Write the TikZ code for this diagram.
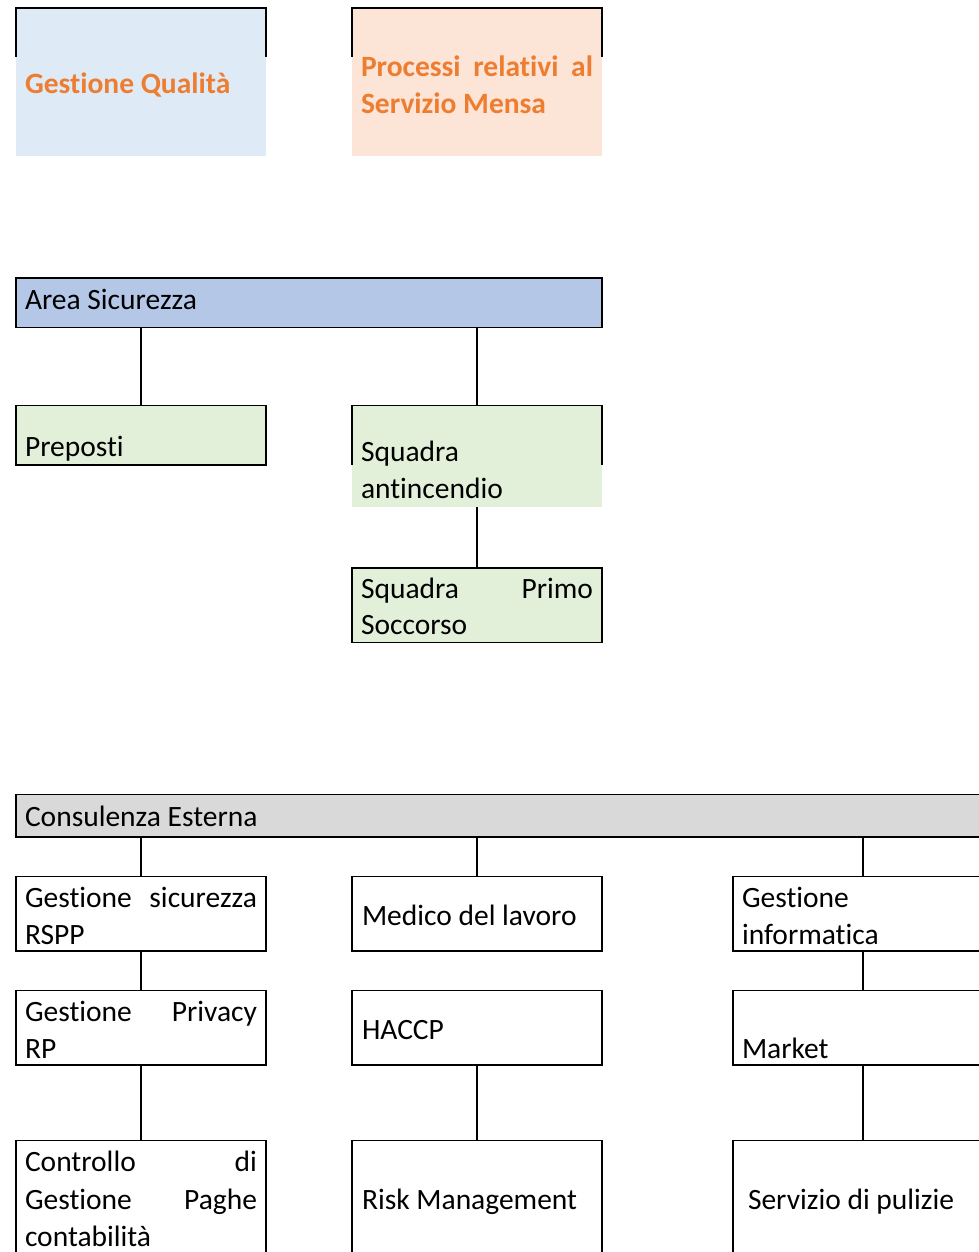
\documentclass[tikz,border=0pt]{standalone}
\usepackage{fontspec}
\setmainfont{Carlito}[Ligatures=NoCommon]
\definecolor{qblue}{HTML}{DEEBF7}
\definecolor{peach}{HTML}{FCE4D6}
\definecolor{areablue}{HTML}{B4C7E7}
\definecolor{lgreen}{HTML}{E2F0D9}
\definecolor{lgray}{HTML}{D9D9D9}
\definecolor{orangetxt}{HTML}{ED7D31}
\tikzset{
  boxbase/.style={rectangle, inner sep=0pt, outer sep=0pt, anchor=north west},
  framed/.style={boxbase, draw=black, line width=1.8pt},
  border/.style={draw=black, line width=1.8pt},
  conn/.style={draw=black, line width=1.4pt},
  txt/.style={inner sep=0pt, outer sep=0pt, anchor=base west, yshift=-1.5pt, font=\fontsize{29.5}{37}\selectfont},
  otxt/.style={txt, text=orangetxt, font=\fontsize{29.5}{37}\selectfont\bfseries}
}
\begin{document}
\begin{tikzpicture}[x=1pt,y=-1pt]
\useasboundingbox (0,0) rectangle (979,1252);
\clip (0,0) rectangle (979,1252);

% Top boxes (partial frames)
\node[boxbase, fill=qblue, minimum width=250pt, minimum height=148.5pt] (gq) at (16,8) {};
\draw[border] ([yshift=-49pt]gq.north west) -- (gq.north west) -- (gq.north east) -- ([yshift=-49pt]gq.north east);
\node[otxt] (tgq) at (25,92) {Gestione Qualità};

\node[boxbase, fill=peach, minimum width=250pt, minimum height=148.5pt] (psm) at (352,8) {};
\draw[border] ([yshift=-49pt]psm.north west) -- (psm.north west) -- (psm.north east) -- ([yshift=-49pt]psm.north east);
\node[otxt] (tpsm1) at (361,75) {\hbox to 232pt{Processi\hfill relativi\hfill al}};
\node[otxt] (tpsm2) at (361,112) {Servizio Mensa};

% Area Sicurezza
\node[framed, fill=areablue, minimum width=586pt, minimum height=49.5pt] (area) at (16,278) {};
\node[txt] (tarea) at (25,308) {Area Sicurezza};

\node[framed, fill=lgreen, minimum width=250pt, minimum height=59.5pt] (prep) at (16,405.5) {};
\node[txt] (tprep) at (25,455) {Preposti};

\node[boxbase, fill=lgreen, minimum width=250pt, minimum height=101.5pt] (sqa) at (352,405.5) {};
\draw[border] ([yshift=-59.5pt]sqa.north west) -- (sqa.north west) -- (sqa.north east) -- ([yshift=-59.5pt]sqa.north east);
\node[txt] (tsqa1) at (361,460) {Squadra};
\node[txt] (tsqa2) at (361,497) {antincendio};

\node[framed, fill=lgreen, minimum width=250pt, minimum height=74.5pt] (sqp) at (352,568) {};
\node[txt] (tsqp1) at (361,597) {\hbox to 232pt{Squadra\hfill Primo}};
\node[txt] (tsqp2) at (361,633) {Soccorso};

\draw[conn] (area.south -| prep.north) -- (prep.north);
\draw[conn] (area.south -| sqa.north) -- (sqa.north);
\draw[conn] (sqa.south) -- (sqp.north);

% Consulenza Esterna
\node[framed, fill=lgray, minimum width=1000pt, minimum height=42.5pt] (cons) at (16,794.5) {};
\node[txt] (tcons) at (25,825) {Consulenza Esterna};

% column 1
\node[framed, minimum width=250pt, minimum height=74.5pt] (rspp) at (16,876.5) {};
\node[txt] (trspp1) at (25,906) {\hbox to 232pt{Gestione\hfill sicurezza}};
\node[txt] (trspp2) at (25,943) {RSPP};

\node[framed, minimum width=250pt, minimum height=74.5pt] (priv) at (16,990.5) {};
\node[txt] (tpriv1) at (25,1020) {\hbox to 232pt{Gestione\hfill Privacy}};
\node[txt] (tpriv2) at (25,1057) {RP};

\node[framed, minimum width=250pt, minimum height=140pt] (ctrl) at (16,1140.5) {};
\node[txt] (tctrl1) at (25,1170) {\hbox to 232pt{Controllo\hfill di}};
\node[txt] (tctrl2) at (25,1208) {\hbox to 232pt{Gestione\hfill Paghe}};
\node[txt] (tctrl3) at (25,1245) {contabilità};

% column 2
\node[framed, minimum width=250pt, minimum height=74.5pt] (med) at (352,876.5) {};
\node[txt] (tmed) at (362,924) {Medico del lavoro};

\node[framed, minimum width=250pt, minimum height=74.5pt] (haccp) at (352,990.5) {};
\node[txt] (thaccp) at (362,1038) {HACCP};

\node[framed, minimum width=250pt, minimum height=140pt] (risk) at (352,1140.5) {};
\node[txt] (trisk) at (362,1208) {Risk Management};

% column 3
\node[framed, minimum width=260pt, minimum height=74.5pt] (info) at (733,876.5) {};
\node[txt] (tinfo1) at (742,906) {Gestione};
\node[txt] (tinfo2) at (742,943) {informatica};

\node[framed, minimum width=260pt, minimum height=74.5pt] (mkt) at (733,990.5) {};
\node[txt] (tmkt) at (742,1057) {Market};

\node[framed, minimum width=260pt, minimum height=140pt] (pul) at (733,1140.5) {};
\node[txt] (tpul) at (748,1208) {Servizio di pulizie};

% connectors
\draw[conn] (cons.south -| rspp.north) -- (rspp.north);
\draw[conn] (cons.south -| med.north) -- (med.north);
\draw[conn] (cons.south -| info.north) -- (info.north);
\draw[conn] (rspp.south) -- (priv.north);
\draw[conn] (priv.south) -- (ctrl.north);
\draw[conn] (haccp.south) -- (risk.north);
\draw[conn] (info.south) -- (mkt.north);
\draw[conn] (mkt.south) -- (pul.north);
\end{tikzpicture}
\end{document}
